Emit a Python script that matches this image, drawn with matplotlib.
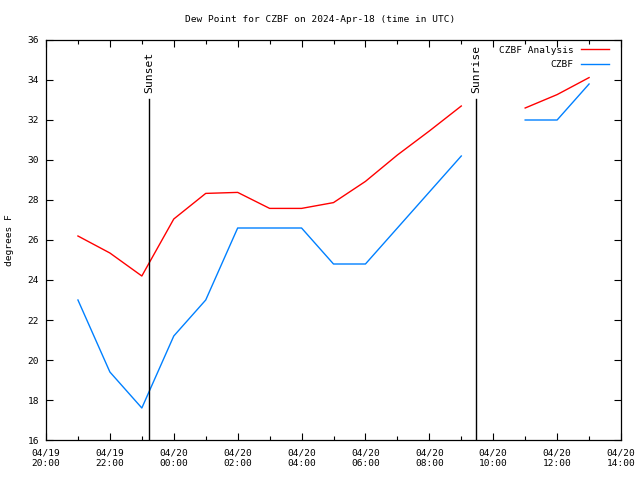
import numpy as np
import pandas as pd
import matplotlib
matplotlib.use("Agg")
import matplotlib.pyplot as plt
import matplotlib.dates as mdates

# --- DATA (hourly, UTC) ---
times = pd.date_range("2024-04-19 21:00", "2024-04-20 13:00", freq="h")
analysis = [26.2, 25.35, 24.2, 27.05, 28.33, 28.38, 27.58, 27.58, 27.87, 28.93,
            30.25, 31.45, 32.7, np.nan, 32.6, 33.27, 34.12]
obs = [23.0, 19.4, 17.6, 21.2, 23.0, 26.6, 26.6, 26.6, 24.8, 24.8,
       26.6, 28.4, 30.2, np.nan, 32.0, 32.0, 33.8]

sunset = pd.Timestamp("2024-04-19 23:13")
sunrise = pd.Timestamp("2024-04-20 09:28")
xmin = pd.Timestamp("2024-04-19 20:00")
xmax = pd.Timestamp("2024-04-20 14:00")

plt.rcParams['font.family'] = ['DejaVu Sans Mono']
fs = 6.8

fig = plt.figure(figsize=(6.4, 4.8), dpi=100)
ax = fig.add_axes([46/640, 40/480, 575/640, 400/480])

ax.plot(times, analysis, color='#ff0000', lw=1.0, label='CZBF Analysis')
ax.plot(times, obs, color='#0080ff', lw=1.0, label='CZBF')

# sunset / sunrise markers
for t, name in [(sunset, 'Sunset'), (sunrise, 'Sunrise')]:
    ax.plot([t, t], [16, 33.05], color='black', lw=1.0)
    ax.text(t, 33.35, name, rotation=90, ha='center', va='bottom', fontsize=8.2)

ax.set_xlim(xmin, xmax)
ax.set_ylim(16, 36)
ax.set_yticks(np.arange(16, 37, 2))
ax.xaxis.set_major_locator(mdates.HourLocator(byhour=range(0, 24, 2)))
ax.xaxis.set_minor_locator(mdates.HourLocator())
ax.xaxis.set_major_formatter(mdates.DateFormatter('%m/%d\n%H:%M'))

ax.tick_params(which='both', direction='in', top=True, right=True, labelsize=fs, width=0.8)
ax.tick_params(which='major', length=5, pad=6)
ax.tick_params(which='minor', length=3)
ax.tick_params(axis='y', pad=5)
for s in ax.spines.values():
    s.set_linewidth(0.9)

ax.set_ylabel('degrees F', fontsize=fs, labelpad=10)
fig.text(0.5, 1 - 20/480, 'Dew Point for CZBF on 2024-Apr-18 (time in UTC)',
         ha='center', va='center', fontsize=fs)

ax.legend(loc='upper right', bbox_to_anchor=(1 - 6/575, 1.0), frameon=False,
          fontsize=fs, markerfirst=False, handlelength=3.0, borderaxespad=0.2,
          labelspacing=0.6, handletextpad=0.8)

fig.savefig('out.png', dpi=100)
